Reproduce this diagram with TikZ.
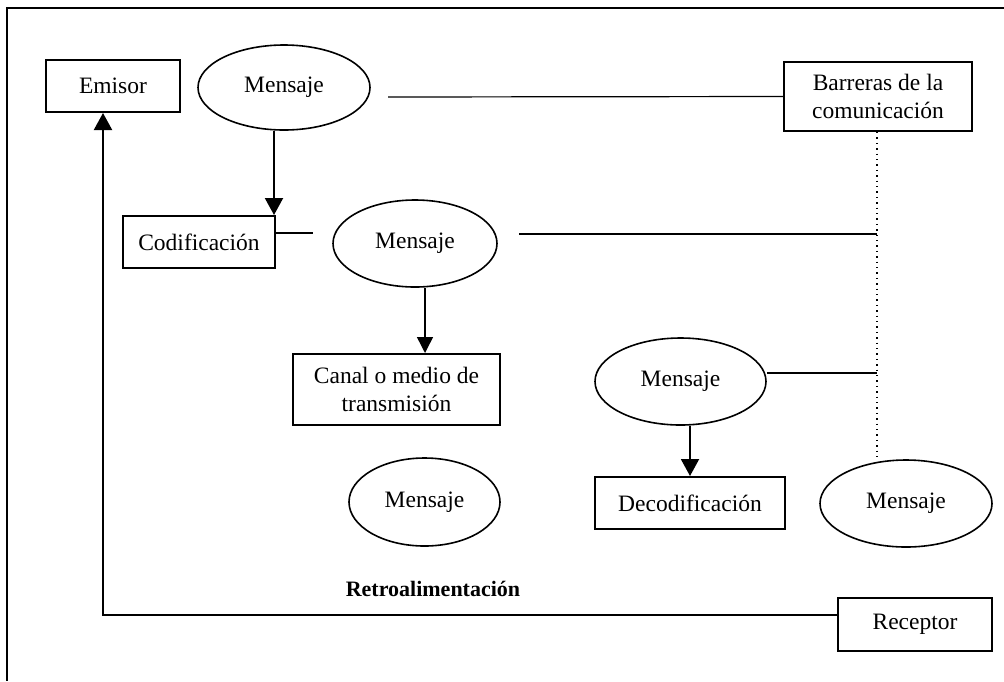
\documentclass[tikz,border=0pt]{standalone}
\usepackage{fontspec}
\setmainfont{Liberation Serif}
\usetikzlibrary{arrows.meta,shapes.geometric}
\begin{document}
\begin{tikzpicture}[x=0.5pt,y=-0.5pt,
  lbl/.style={font=\fontsize{11.75}{14}\selectfont},
  box/.style={lbl, draw, line width=1pt, inner sep=0pt, align=center},
  msg/.style={lbl, draw, ellipse, line width=0.8pt, inner sep=0pt},
  thin/.style={line width=0.6pt},
  arr/.style={-{Triangle[width=9pt,length=8.5pt]}, line width=1pt},
  arrthin/.style={-{Triangle[width=8pt,length=8pt]}, line width=0.7pt}
]
\useasboundingbox (0,0) rectangle (1004,681);
\fill[white] (0,0) rectangle (1004,681);

% frame (top and left edges)
\draw[line width=1pt] (1004,8) -- (7,8) -- (7,681);

% boxes
\node[box, minimum width=67pt, minimum height=26pt] (emi) at (113,86) {Emisor};
\node[box, minimum width=94pt, minimum height=34.5pt] (barr) at (878,96.5) {Barreras de la\\comunicación};
\node[box, minimum width=76pt, minimum height=26pt] (cod) at (199,242) {Codificación};
\node[box, minimum width=103.5pt, minimum height=35.5pt] (canal) at (396.5,389.5) {Canal o medio de\\transmisión};
\node[box, minimum width=95pt, minimum height=26pt] (dec) at (690,503) {Decodificación};
\node[box, minimum width=77pt, minimum height=26.5pt] (rec) at (915,624.5) {Receptor};

% messages
\node[msg, minimum width=86pt, minimum height=42.5pt] (m1) at (284,87.5) {Mensaje};
\node[msg, minimum width=82pt, minimum height=43.5pt] (m2) at (415,243.5) {Mensaje};
\node[msg, minimum width=85.5pt, minimum height=43.5pt] (m3) at (680.5,381.5) {Mensaje};
\node[msg, minimum width=75.5pt, minimum height=44pt] (m4) at (424.5,502) {Mensaje};
\node[msg, minimum width=86pt, minimum height=43.5pt] (m5) at (906,503.5) {Mensaje};

% feedback label
\node[font=\fontsize{11}{13}\selectfont\bfseries] (retro) at (433,589) {Retroalimentación};

% free ends of connectors
\coordinate (c1) at (388,97);
\coordinate (codend) at (313,233);
\coordinate (m2a) at (519,234);
\coordinate (m2b) at (877,234);
\coordinate (m3b) at (877,373);
\coordinate (dotend) at (877,461);

% connectors to the barriers
\draw[thin] (c1) -- (barr.west);
\draw[thin] (cod.east |- codend) -- (codend);
\draw[thin] (m2a) -- (m2b);
\draw[thin] (m3.east |- m3b) -- (m3b);
\draw[line width=0.7pt, dotted] (dotend |- barr.south) -- (dotend);

% flow arrows
\draw[arr] ([xshift=-5pt]m1.south) -- ([xshift=-5pt]m1.south |- cod.north);
\draw[arrthin] ([xshift=5pt]m2.south) -- ([xshift=5pt]m2.south |- canal.north);
\draw[arr] (dec.north |- m3.south) -- (dec.north);

% feedback loop
\draw[arr] ([yshift=4.75pt]rec.west) -| ([xshift=-5pt]emi.south);
\end{tikzpicture}
\end{document}
